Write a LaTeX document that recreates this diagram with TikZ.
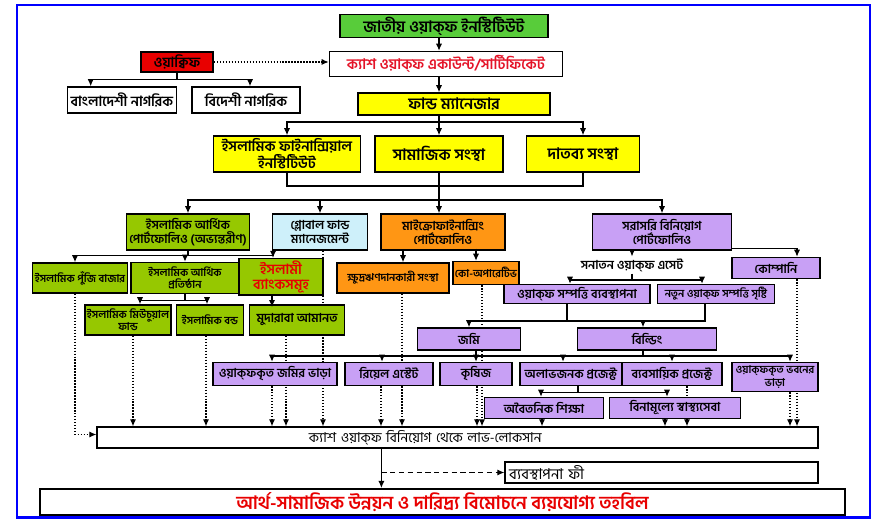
\documentclass[tikz,border=0pt]{standalone}
\usepackage{fontspec}
\newfontfamily\bn[Script=Bengali]{Hind Siliguri}
\usepackage{tikz}
\usetikzlibrary{positioning,calc,arrows.meta,backgrounds}

\definecolor{wgreen}{RGB}{88,204,58}
\definecolor{wred}{RGB}{232,0,0}
\definecolor{wyellow}{RGB}{255,255,0}
\definecolor{wolive}{RGB}{150,200,0}
\definecolor{wcyan}{RGB}{206,240,250}
\definecolor{worange}{RGB}{255,150,20}
\definecolor{wlilac}{RGB}{200,160,245}
\definecolor{wtext}{RGB}{228,20,40}

\tikzset{
  box/.style={draw, line width=0.9pt, inner sep=1pt, align=center, font=\bn\bfseries\fontsize{7}{8}\selectfont},
  bigtext/.style={font=\bn\bfseries\fontsize{9}{10}\selectfont},
  smalltext/.style={font=\bn\bfseries\fontsize{6.1}{7}\selectfont},
  sz/.style 2 args={minimum width=#1*0.02cm, minimum height=#2*0.02cm},
  link/.style={line width=0.6pt},
  arr/.style={-{Latex[length=4pt,width=3.5pt]}, line width=0.6pt},
  dotarr/.style={densely dotted, -{Latex[length=4pt,width=3.5pt]}, line width=0.7pt},
  dasharr/.style={densely dashed, -{Latex[length=4pt,width=3.5pt]}, line width=0.7pt}
}

\begin{document}
\begin{tikzpicture}[x=0.02cm, y=-0.02cm]
    \useasboundingbox (0,0) rectangle (875,519);
    % Frame
    \draw [blue, line width=1.6pt] (17,5) rectangle (870,517.5);

    % Top part
    \node [box, bigtext, fill=wgreen, sz={208}{23}] (inst) at (444,26) {জাতীয় ওয়াক্ফ ইনস্টিটিউট};
    \node [box, fill=white, sz={233}{25}, text=wtext, font=\bn\bfseries\fontsize{8.3}{9}\selectfont] (cash) at (446,64) {ক্যাশ ওয়াক্ফ একাউন্ট/সার্টিফিকেট};
    \node [box, fill=wred, sz={72}{20}, font=\bn\bfseries\fontsize{8}{9}\selectfont] (waqif) at (177,62) {ওয়াক্বিফ};
    \node [box, fill=white, sz={109}{26}, font=\bn\bfseries\fontsize{8}{9}\selectfont] (bd) at (122,100) {বাংলাদেশী নাগরিক};
    \node [box, fill=white, sz={108}{26}, font=\bn\bfseries\fontsize{8}{9}\selectfont] (fr) at (246,100) {বিদেশী নাগরিক};
    \node [box, bigtext, fill=wyellow, sz={192}{22}] (fm) at (454,104) {ফান্ড ম্যানেজার};

    % Institutions
    \node [box, fill=wyellow, sz={147}{36}, font=\bn\bfseries\fontsize{8.2}{9.5}\selectfont] (ifi) at (287,154) {ইসলামিক ফাইনান্সিয়াল\\ইনস্টিটিউট};
    \node [box, bigtext, fill=wyellow, sz={128}{36}] (soc) at (439,154) {সামাজিক সংস্থা};
    \node [box, bigtext, fill=wyellow, sz={113}{36}] (cha) at (583,154) {দাতব্য সংস্থা};

    % Portfolios
    \node [box, fill=wolive, sz={123}{36}] (ifp) at (188,232) {ইসলামিক আর্থিক\\পোর্টফোলিও (অভ্যন্তরীণ)};
    \node [box, fill=wcyan, sz={95}{36}] (gfm) at (320,232) {গ্লোবাল ফান্ড\\ম্যানেজমেন্ট};
    \node [box, fill=worange, sz={124}{36}] (mfp) at (443,232) {মাইক্রোফাইনান্সিং\\পোর্টফোলিও};
    \node [box, fill=wlilac, sz={139}{36}] (dip) at (662,232) {সরাসরি বিনিয়োগ\\পোর্টফোলিও};

    % Second level
    \node [box, smalltext, fill=wolive, sz={95}{30}] (icm) at (80,278) {ইসলামিক পুঁজি বাজার};
    \node [box, smalltext, fill=wolive, sz={108}{31}] (ifin) at (185,278) {ইসলামিক আর্থিক\\প্রতিষ্ঠান};
    \node [box, fill=wolive, sz={84}{34}, text=wred, font=\bn\bfseries\fontsize{8}{9}\selectfont] (ibk) at (281,277) {ইসলামী\\ব্যাংকসমূহ};
    \node [box, smalltext, fill=worange, sz={112}{30}] (slo) at (393,278) {ক্ষুদ্রঋণদানকারী সংস্থা};
    \node [box, smalltext, fill=worange, sz={62}{23}] (coop) at (486,273) {কো-অপারেটিভ};
    \node [font=\bn\bfseries\fontsize{7}{8}\selectfont, inner sep=1pt] (san) at (632,265) {সনাতন ওয়াক্ফ এসেট};
    \node [box, fill=wlilac, sz={88}{21}] (comp) at (776,268) {কোম্পানি};
    \node [box, fill=wlilac, sz={146}{19}] (wpm) at (577,294) {ওয়াক্ফ সম্পত্তি ব্যবস্থাপনা};
    \node [box, smalltext, fill=wlilac, sz={117}{19}] (nwp) at (716,294) {নতুন ওয়াক্ফ সম্পত্তি সৃষ্টি};

    % Third level
    \node [box, smalltext, fill=wolive, sz={84}{30}] (imf) at (128,320) {ইসলামিক মিউচুয়াল\\ফান্ড};
    \node [box, smalltext, fill=wolive, sz={67}{30}] (ibd) at (210,320) {ইসলামিক বন্ড};
    \node [box, fill=wolive, sz={95}{30}] (mud) at (297,320) {মুদারাবা আমানত};
    \node [box, fill=wlilac, sz={103}{22}] (land) at (469,339) {জমি};
    \node [box, fill=wlilac, sz={139}{22}] (bldg) at (647,339) {বিল্ডিং};

    % Income sources
    \node [box, fill=wlilac, sz={124}{23}] (lrent) at (275,374) {ওয়াক্ফকৃত জমির ভাড়া};
    \node [box, fill=wlilac, sz={88}{23}] (rest) at (389,374) {রিয়েল এস্টেট};
    \node [box, fill=wlilac, sz={72}{23}] (agr) at (476,374) {কৃষিজ};
    \node [box, fill=wlilac, sz={102}{23}] (npp) at (571,374) {অলাভজনক প্রজেক্ট};
    \node [box, fill=wlilac, sz={100}{23}] (bpp) at (672,374) {ব্যবসায়িক প্রজেক্ট};
    \node [box, smalltext, fill=wlilac, sz={86}{29}] (brent) at (775,377) {ওয়াক্ফকৃত ভবনের\\ভাড়া};
    \node [box, fill=wlilac, sz={119}{21}] (edu) at (544,408) {অবৈতনিক শিক্ষা};
    \node [box, fill=wlilac, sz={131}{21}] (hlth) at (675,408) {বিনামূল্যে স্বাস্থ্যসেবা};

    % Bottom
    \node [box, fill=white, sz={721}{21}, text width=717*0.02cm, align=left, line width=0.7pt, font=\bn\fontsize{7.8}{8.5}\selectfont] (pl) at (457.5,437.5) {\hspace*{4.2cm}ক্যাশ ওয়াক্ফ বিনিয়োগ থেকে লাভ-লোকসান};
    \node [box, fill=white, sz={313}{21}, text width=305*0.02cm, align=left, line width=0.7pt, font=\bn\fontsize{8.5}{9}\selectfont] (fee) at (661.5,472.5) {ব্যবস্থাপনা ফী};
    \node [box, fill=white, sz={805}{26}, line width=1.2pt, inner sep=0pt, text=wred, font=\bn\bfseries\fontsize{10.5}{11}\selectfont] (fin) at (442.5,502) {আর্থ-সামাজিক উন্নয়ন ও দারিদ্র্য বিমোচনে ব্যয়যোগ্য তহবিল};

    % Waqif links
    \draw [dotarr] (waqif.east) -- (waqif.east -| cash.west);
    \draw [arr] (waqif.south) |- ($(bd.north west)+(24,-7)$) -- ($(bd.north west)+(24,0)$);
    \draw [arr] (waqif.south) |- ($(fr.north)+(4,-7)$) -- ($(fr.north)+(4,0)$);

    % Main spine
    \coordinate (sp) at (439,0);
    \coordinate (b1) at (439,122);
    \draw [arr] (inst.south -| sp) -- (cash.north -| sp);
    \draw [arr] (cash.south -| sp) -- (fm.north -| sp);
    \draw [link] (fm.south -| sp) -- (b1);
    \draw [arr] (b1) -| (ifi.north);
    \draw [arr] (b1) -| (cha.north);
    \draw [arr] (b1) -- (soc.north -| b1);

    % Institutions to portfolios
    \coordinate (b2) at (439,186);
    \coordinate (b3) at (439,200);
    \draw [link] (ifi.south) |- (b2) -| (cha.south);
    \draw [link] (soc.south) -- (b3);
    \draw [arr] (b3) -| (ifp.north);
    \draw [arr] (b3) -| (gfm.north);
    \draw [arr] (b3) -- (b3 |- mfp.north);
    \draw [arr] (b3) -| (dip.north);

    % Islamic portfolio
    \coordinate (b4) at ($(ifp.south)+(0,5)$);
    \draw [link] (ifp.south) -- (b4);
    \draw [arr] (b4) -| ($(icm.north)+(-5,0)$);
    \draw [arr] (b4) -| (ifin.north);
    \draw [arr] (b4) -| ($(ibk.north)+(-8,0)$);
    \coordinate (b9) at ($(ifin.south)+(0,6)$);
    \draw [link] (ifin.south) -- (b9);
    \draw [arr] (b9) -| ($(imf.north)+(12,0)$);
    \draw [arr] (b9) -| ($(ibd.north)+(-3,0)$);
    \draw [arr] ($(ibk.south)+(-9,0)$) -- ($(ibk.south)+(-9,11)$);

    % Microfinance
    \draw [arr] ($(slo.north)+(10,-12)$) -- ($(slo.north)+(10,0)$);
    \draw [arr] ($(coop.north)+(-10,-12)$) -- ($(coop.north)+(-10,0)$);

    % Direct investment
    \draw [arr] (san.north |- dip.south) -- (san.north);
    \draw [arr] ($(dip.south east)+(0,-2)$) -| ($(comp.north)+(21,0)$);
    \coordinate (b5) at (632,280);
    \draw [link] (san.south) -- (b5);
    \draw [arr] (b5) -| ($(wpm.north)+(-7,0)$);
    \draw [arr] (b5) -| ($(nwp.north)+(-14,0)$);

    % Property to land and building
    \coordinate (b6) at (567,321);
    \draw [arr] ($(wpm.south)+(-10,0)$) |- (b6) -| (land.north);
    \draw [link] ($(nwp.south)+(-11,0)$) |- (b6);
    \draw [arr] ($(b6 -| bldg.north)+(-4,0)$) -- ($(bldg.north)+(-4,0)$);
    \draw [arr] (agr.north |- land.south) -- (agr.north);

    % Building to projects
    \coordinate (b7) at (643,356);
    \draw [link] ($(bldg.south)+(-4,0)$) -- (b7);
    \draw [arr] (b7) -| ($(lrent.north)+(-3,0)$);
    \draw [arr] (b7) -| ($(rest.north)+(-7,0)$);
    \draw [arr] (b7) -| ($(npp.north)+(-8,0)$);
    \draw [arr] (b7) -| (bpp.north);
    \draw [arr] (b7) -| ($(brent.north)+(15,0)$);
    \coordinate (b8) at ($(npp.south)+(7,6)$);
    \draw [link] ($(npp.south)+(7,0)$) -- (b8);
    \draw [arr] (b8) -| ($(edu.north)+(-3,0)$);
    \draw [arr] (b8) -| ($(hlth.north)+(-8,0)$);

    % Flows into profit
    \begin{pgfonlayer}{background}
    \foreach \n/\dx in {imf/5, ibd/-4, lrent/-3, mud/-11, gfm/3, rest/-8, slo/9, agr/1, coop/-4, edu/-2, hlth/-10, bpp/15, brent/15, comp/21} {
        \path ($(\n.south)+(\dx,0)$) coordinate (t);
        \draw [dotarr] (t) -- (t |- pl.north);
    }
    \path ($(icm.south)+(-5,0)$) coordinate (t);
    \draw [dotarr] (t) |- ($(pl.west)+(0,-3)$);
    \end{pgfonlayer}

    % Profit to fund
    \coordinate (tr) at ($(pl.south west)+(285,0)$);
    \draw [arr] (tr) -- (tr |- fin.north);
    \draw [dasharr] (tr |- fee.west) -- (fee.west);
\end{tikzpicture}
\end{document}
